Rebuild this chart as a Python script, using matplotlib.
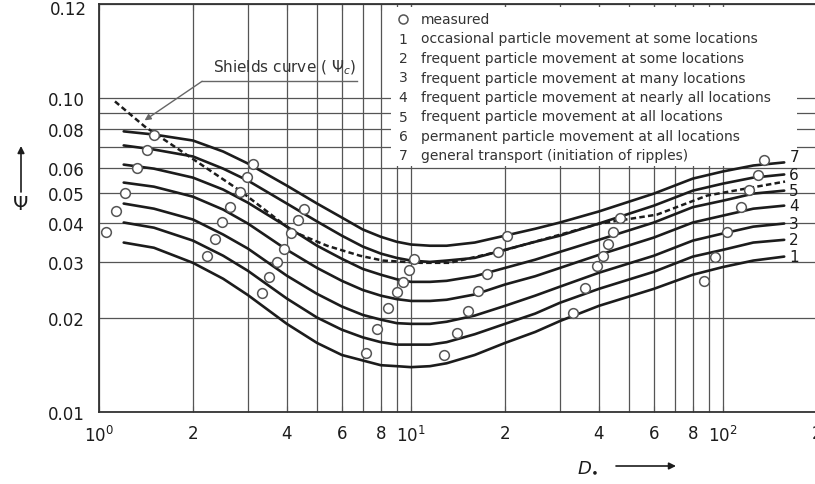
import numpy as np
import matplotlib
matplotlib.use('Agg')
import matplotlib.pyplot as plt
from matplotlib.patches import Rectangle
from matplotlib.lines import Line2D
from matplotlib.ticker import FixedLocator, FixedFormatter, NullFormatter

d_star = [1.2, 1.5, 2, 2.5, 3, 4, 5, 6, 7, 8, 9, 10, 11.5, 13, 16, 20, 25, 30, 40, 60, 80, 100, 125, 157]

# movement-stage curves 1..7 (psi values at d_star)
psi_1 = [0.0347, 0.0334, 0.0299, 0.0266, 0.0236, 0.0191, 0.0166, 0.0152, 0.0146, 0.0141, 0.0140, 0.0139,
         0.0140, 0.0143, 0.0152, 0.0166, 0.0180, 0.0195, 0.0218, 0.0247, 0.0274, 0.0290, 0.0304, 0.0313]
psi_2 = [0.0402, 0.0387, 0.0352, 0.0315, 0.0282, 0.0230, 0.0200, 0.0183, 0.0173, 0.0167, 0.0164, 0.0164,
         0.0164, 0.0167, 0.0177, 0.0191, 0.0206, 0.0223, 0.0247, 0.0280, 0.0313, 0.0329, 0.0347, 0.0354]
psi_3 = [0.0462, 0.0445, 0.0411, 0.0368, 0.0332, 0.0272, 0.0238, 0.0217, 0.0204, 0.0197, 0.0192, 0.0191,
         0.0191, 0.0194, 0.0203, 0.0218, 0.0235, 0.0251, 0.0278, 0.0315, 0.0352, 0.0371, 0.0390, 0.0399]
psi_4 = [0.0539, 0.0523, 0.0486, 0.0442, 0.0399, 0.0329, 0.0288, 0.0262, 0.0245, 0.0235, 0.0229, 0.0226,
         0.0226, 0.0228, 0.0237, 0.0255, 0.0271, 0.0288, 0.0317, 0.0360, 0.0402, 0.0423, 0.0445, 0.0455]
psi_5 = [0.0615, 0.0597, 0.0559, 0.0512, 0.0465, 0.0390, 0.0339, 0.0308, 0.0286, 0.0274, 0.0265, 0.0260,
         0.0260, 0.0262, 0.0271, 0.0288, 0.0306, 0.0324, 0.0354, 0.0402, 0.0450, 0.0472, 0.0497, 0.0508]
psi_6 = [0.0708, 0.0687, 0.0653, 0.0597, 0.0547, 0.0462, 0.0405, 0.0365, 0.0337, 0.0320, 0.0310, 0.0304,
         0.0301, 0.0304, 0.0310, 0.0329, 0.0349, 0.0365, 0.0399, 0.0455, 0.0508, 0.0535, 0.0559, 0.0572]
psi_7 = [0.0785, 0.0767, 0.0734, 0.0677, 0.0620, 0.0527, 0.0462, 0.0417, 0.0382, 0.0362, 0.0349, 0.0342,
         0.0339, 0.0339, 0.0347, 0.0365, 0.0384, 0.0402, 0.0436, 0.0497, 0.0555, 0.0585, 0.0611, 0.0625]
curves = [psi_1, psi_2, psi_3, psi_4, psi_5, psi_6, psi_7]
curve_names = ['1', '2', '3', '4', '5', '6', '7']

# Shields curve (dashed)
shields_d = [1.125, 1.40, 1.99, 2.83, 4.19, 5.38, 6.86, 8.13, 10.7, 13.3, 19.7, 40.3, 61.4, 88.9, 158]
shields_psi = [0.0978, 0.0814, 0.0643, 0.0508, 0.0376, 0.0339, 0.0315, 0.0304, 0.0299, 0.0299,
               0.0327, 0.0399, 0.0426, 0.0490, 0.0543]

# measured points
meas_d = [1.05, 1.13, 1.21, 1.32, 1.43, 1.50,
          2.22, 2.35, 2.48, 2.63, 2.83, 2.98, 3.12,
          3.33, 3.51, 3.72, 3.92, 4.12, 4.34, 4.54,
          7.17, 7.78, 8.44, 9.02, 9.43, 9.85, 10.2,
          12.8, 14.0, 15.2, 16.4, 17.5, 19.0, 20.3,
          33.1, 36.1, 39.5, 41.2, 42.8, 44.4, 46.8,
          86.9, 94.3, 103, 114, 121, 129, 135]
meas_psi = [0.0376, 0.0439, 0.0501, 0.0602, 0.0687, 0.0762,
            0.0315, 0.0357, 0.0405, 0.0452, 0.0504, 0.0563, 0.0620,
            0.0240, 0.0270, 0.0301, 0.0332, 0.0371, 0.0408, 0.0445,
            0.0154, 0.0184, 0.0215, 0.0242, 0.0260, 0.0284, 0.0308,
            0.0152, 0.0179, 0.0210, 0.0244, 0.0276, 0.0324, 0.0365,
            0.0207, 0.0249, 0.0293, 0.0315, 0.0344, 0.0376, 0.0417,
            0.0262, 0.0313, 0.0376, 0.0449, 0.0512, 0.0568, 0.0634]

legend_labels = ['measured',
                 'occasional particle movement at some locations',
                 'frequent particle movement at some locations',
                 'frequent particle movement at many locations',
                 'frequent particle movement at nearly all locations',
                 'frequent particle movement at all locations',
                 'permanent particle movement at all locations',
                 'general transport (initiation of ripples)']

x_ticks = [1, 2, 4, 6, 8, 10, 20, 40, 60, 80, 100, 200]
x_tick_labels = ['$10^0$', '2', '4', '6', '8', '$10^1$', '2', '4', '6', '8', '$10^2$', '2']
x_minor = [3, 5, 7, 9, 30, 50, 70, 90]
y_ticks = [0.01, 0.02, 0.03, 0.04, 0.05, 0.06, 0.08, 0.10, 0.2]
y_tick_labels = ['0.01', '0.02', '0.03', '0.04', '0.05', '0.06', '0.08', '0.10', '']
y_minor = [0.07, 0.09]
top_label = '0.12'

W, H = 815, 485
ink = '#1c1c1c'
grid_c = '#555555'

fig = plt.figure(figsize=(W / 100, H / 100), dpi=100)
fig.patch.set_facecolor('white')
ax = fig.add_axes([99 / W, 72 / H, 718 / W, 408 / H])
ax.set_xscale('log')
ax.set_yscale('log')
ax.set_xlim(1, 200)
ax.set_ylim(0.01, 0.2)

ax.xaxis.set_major_locator(FixedLocator(x_ticks))
ax.xaxis.set_major_formatter(FixedFormatter(x_tick_labels))
ax.xaxis.set_minor_locator(FixedLocator(x_minor))
ax.xaxis.set_minor_formatter(NullFormatter())
ax.yaxis.set_major_locator(FixedLocator(y_ticks))
ax.yaxis.set_major_formatter(FixedFormatter(y_tick_labels))
ax.yaxis.set_minor_locator(FixedLocator(y_minor))
ax.yaxis.set_minor_formatter(NullFormatter())

ax.tick_params(axis='both', which='both', direction='in', length=0, labelsize=12, labelcolor=ink)
ax.tick_params(axis='x', which='both', top=True, length=4, color=grid_c)
ax.tick_params(axis='x', pad=9)
ax.tick_params(axis='y', pad=10)
ax.grid(True, which='both', color=grid_c, lw=0.9)
ax.set_axisbelow(True)
for s in ['left', 'bottom', 'top']:
    ax.spines[s].set_color('#333333')
    ax.spines[s].set_linewidth(1.3)
ax.spines['right'].set_visible(False)
# the top tick label sits a little below the frame in the original
fig.text(87 / W, 1 - 10 / H, top_label, fontsize=12, color=ink, ha='right', va='center')

# white box behind the legend text
ax.add_patch(Rectangle((391 / W, 1 - 167 / H), 406 / W, 159 / H, transform=fig.transFigure,
                       facecolor='white', edgecolor='none', zorder=1, clip_on=False))

# the "7" label is lifted a bit above its curve end in the original
label_lift = [0, 0, 0, 0, 0, 0, 4]
for psi, name, lift in zip(curves, curve_names, label_lift):
    ax.plot(d_star, psi, color=ink, lw=1.9, zorder=3, solid_capstyle='round',
            solid_joinstyle='round')
    ax.annotate(name, xy=(163, psi[-1]), xytext=(0, lift), textcoords='offset points',
                fontsize=11, color=ink, ha='left', va='center', zorder=4)

ax.plot(shields_d, shields_psi, color=ink, lw=1.8, ls=(0, (2.2, 1.3)), zorder=3)
ax.plot(meas_d, meas_psi, 'o', mfc='white', mec='#555555', mew=1.1, ms=7, zorder=5)

# Shields annotation
label_pos = (3.92, 0.1265)
corner = (2.14, 0.1134)
corner_end = (6.71, 0.1134)
tip = (1.40, 0.0851)
ax.text(*label_pos, r'Shields curve ( $\Psi_c$)', fontsize=11, color='#333333',
        ha='center', va='center', zorder=4)
ax.plot([corner[0], corner_end[0]], [corner[1], corner_end[1]], color='#666666', lw=1, zorder=4)
ax.annotate('', xy=tip, xytext=corner,
            arrowprops=dict(arrowstyle='-|>', color='#666666', lw=1, mutation_scale=9,
                            shrinkA=0, shrinkB=0), zorder=4)

# legend rows
for i, lab in enumerate(legend_labels):
    fy = 1 - (20 + 19.5 * i) / H
    if i == 0:
        fig.add_artist(Line2D([403 / W], [fy], marker='o', mfc='white', mec='#555555',
                              mew=1.1, ms=6.5, transform=fig.transFigure))
    else:
        fig.text(403 / W, fy, str(i), fontsize=10, color='#333333', ha='center', va='center')
    fig.text(421 / W, fy, lab, fontsize=10, color='#333333', ha='left', va='center')

# axis labels with arrows
fig.text(21 / W, 1 - 204 / H, 'Ψ', fontsize=14, color=ink, ha='center', va='center')
ax.annotate('', xy=(21 / W, 1 - 147 / H), xytext=(21 / W, 1 - 193 / H), xycoords='figure fraction',
            arrowprops=dict(arrowstyle='-|>', color=ink, lw=1.2, mutation_scale=10,
                            shrinkA=0, shrinkB=0))
fig.text(588 / W, 1 - 467 / H, r'$D_{\bullet}$', fontsize=13, color=ink, ha='center', va='center')
ax.annotate('', xy=(676 / W, 1 - 467 / H), xytext=(616 / W, 1 - 467 / H), xycoords='figure fraction',
            arrowprops=dict(arrowstyle='-|>', color=ink, lw=1.2, mutation_scale=10,
                            shrinkA=0, shrinkB=0))

fig.savefig('out.png', dpi=100, facecolor='white')
